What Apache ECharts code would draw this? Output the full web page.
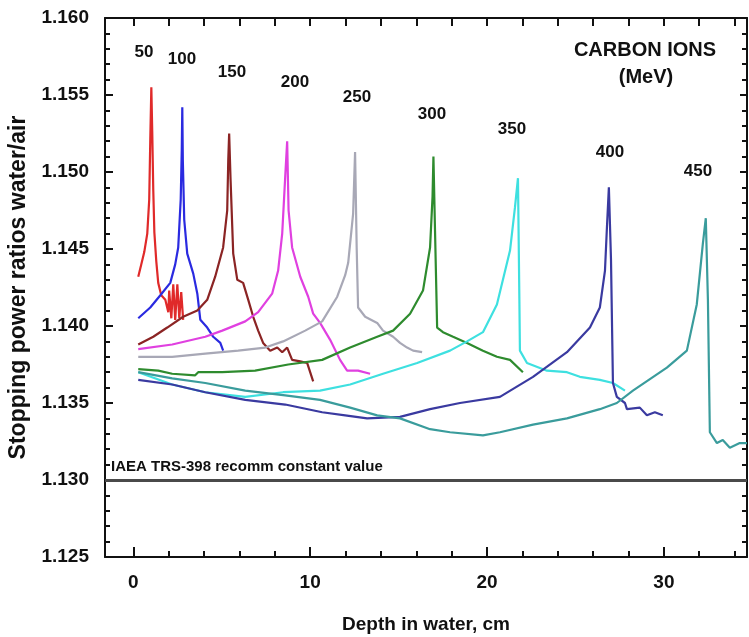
<!DOCTYPE html>
<html>
<head>
<meta charset="utf-8">
<script src="https://cdn.jsdelivr.net/npm/echarts@6/dist/echarts.min.js"></script>
<style>html,body{margin:0;padding:0;background:#fff;}#c{width:749px;height:637px;}</style>
</head>
<body>
<div id="c"></div>
<script>
// ---- data (depth in cm, stopping power ratio water/air) ----
const energies = ['50', '100', '150', '200', '250', '300', '350', '400', '450'];
const d50 = [[0.28,1.1432],[0.45,1.1440],[0.62,1.1448],[0.79,1.1460],[0.90,1.1482],[0.96,1.1521],[1.02,1.1555],[1.07,1.1527],[1.13,1.1488],[1.19,1.1461],[1.30,1.1442],[1.41,1.1428],[1.58,1.1420],[1.81,1.1417],[1.98,1.1409],[2.03,1.1423],[2.15,1.1405],[2.26,1.1427],[2.37,1.1404],[2.49,1.1427],[2.60,1.1405],[2.71,1.1422],[2.82,1.1404]];
const d100 = [[0.28,1.1405],[0.96,1.1412],[1.53,1.1420],[2.09,1.1428],[2.37,1.1440],[2.54,1.1451],[2.68,1.1482],[2.74,1.1514],[2.77,1.1542],[2.80,1.1508],[2.88,1.1469],[3.05,1.1447],[3.39,1.1434],[3.62,1.1421],[3.79,1.1404],[4.18,1.1399],[4.52,1.1393],[4.92,1.1389],[5.08,1.1384]];
const d150 = [[0.28,1.1388],[1.13,1.1393],[1.92,1.1399],[2.82,1.1406],[3.62,1.1410],[4.18,1.1417],[4.63,1.1432],[5.08,1.1451],[5.31,1.1475],[5.37,1.1508],[5.42,1.1525],[5.50,1.1495],[5.65,1.1447],[5.88,1.1430],[6.21,1.1428],[6.50,1.1417],[6.78,1.1406],[7.06,1.1397],[7.34,1.1389],[7.74,1.1384],[8.14,1.1386],[8.42,1.1383],[8.70,1.1386],[8.98,1.1378],[9.44,1.1377],[9.83,1.1376],[10.17,1.1364]];
const d200 = [[0.28,1.1385],[2.20,1.1388],[4.07,1.1393],[5.03,1.1397],[6.33,1.1403],[7.06,1.1409],[7.85,1.1421],[8.19,1.1436],[8.42,1.1460],[8.59,1.1497],[8.70,1.1520],[8.78,1.1475],[8.98,1.1451],[9.44,1.1432],[9.89,1.1419],[10.17,1.1408],[10.56,1.1402],[11.13,1.1391],[11.69,1.1378],[12.09,1.1371],[12.71,1.1371],[13.39,1.1369]];
const d250 = [[0.28,1.1380],[2.20,1.1380],[4.07,1.1382],[5.93,1.1384],[7.46,1.1386],[8.47,1.1390],[9.72,1.1397],[10.68,1.1403],[11.53,1.1419],[11.98,1.1433],[12.15,1.1441],[12.43,1.1473],[12.54,1.1513],[12.63,1.1451],[12.71,1.1412],[13.11,1.1406],[13.79,1.1402],[14.12,1.1397],[14.69,1.1393],[15.08,1.1389],[15.48,1.1386],[15.82,1.1384],[16.33,1.1383]];
const d300 = [[0.28,1.1372],[1.41,1.1371],[2.20,1.1369],[3.50,1.1368],[3.67,1.1370],[5.03,1.1370],[6.89,1.1371],[8.76,1.1375],[10.68,1.1378],[12.26,1.1386],[13.79,1.1393],[14.69,1.1397],[15.65,1.1408],[16.38,1.1423],[16.78,1.1451],[16.92,1.1484],[16.97,1.1510],[17.06,1.1462],[17.18,1.1399],[17.51,1.1396],[18.08,1.1393],[18.87,1.1389],[19.77,1.1384],[20.56,1.1380],[21.30,1.1378],[22.03,1.1370]];
const d350 = [[0.28,1.1370],[2.20,1.1362],[4.07,1.1357],[6.33,1.1354],[8.47,1.1357],[10.56,1.1358],[12.26,1.1362],[14.12,1.1369],[16.05,1.1376],[17.91,1.1384],[18.87,1.1390],[19.77,1.1396],[20.56,1.1414],[21.30,1.1449],[21.58,1.1477],[21.75,1.1496],[21.83,1.1417],[21.86,1.1384],[22.26,1.1376],[23.39,1.1371],[24.52,1.1370],[25.25,1.1367],[26.38,1.1365],[27.12,1.1363],[27.80,1.1358]];
const d400 = [[0.28,1.1365],[2.20,1.1362],[4.07,1.1357],[6.33,1.1352],[8.59,1.1349],[10.68,1.1344],[11.98,1.1342],[13.22,1.1340],[15.08,1.1341],[16.78,1.1346],[18.47,1.1350],[20.73,1.1354],[22.60,1.1367],[24.52,1.1383],[25.82,1.1399],[26.38,1.1412],[26.67,1.1436],[26.78,1.1464],[26.89,1.1490],[27.01,1.1443],[27.12,1.1363],[27.34,1.1354],[27.80,1.1350],[27.91,1.1346],[28.64,1.1347],[29.04,1.1342],[29.49,1.1344],[29.94,1.1342]];
const d450 = [[0.28,1.1370],[2.20,1.1366],[4.07,1.1363],[6.33,1.1358],[8.59,1.1355],[10.56,1.1352],[12.26,1.1347],[13.79,1.1342],[15.08,1.1340],[16.78,1.1333],[17.91,1.1331],[19.77,1.1329],[20.73,1.1331],[22.60,1.1336],[24.52,1.1340],[26.38,1.1346],[27.34,1.1350],[28.25,1.1358],[30.17,1.1373],[31.30,1.1384],[31.86,1.1414],[32.20,1.1453],[32.37,1.1470],[32.49,1.1417],[32.60,1.1331],[33.00,1.1324],[33.33,1.1326],[33.73,1.1321],[34.29,1.1324],[34.70,1.1324]];
const curves = [d50, d100, d150, d200, d250, d300, d350, d400, d450];
const refValue = 1.130;
const refLabel = 'IAEA TRS-398 recomm constant value';
const xLabelTicks = [0, 10, 20, 30];
const xMinorTicks = [2, 4, 6, 8, 12, 14, 16, 18, 22, 24, 26, 28, 32, 34];
const xTopTicks = [0, 2, 4, 6, 8, 10, 12, 14, 16, 18, 20, 22, 24, 26, 28, 30, 32, 34];

// ---- styles / layout ----
const colors = ['#e02a2a', '#2a2ae0', '#8b2424', '#e040e0', '#a8a8b6', '#2e8b2e', '#3ee0e0', '#3a3aa0', '#3a9c9c'];
const labelPos = [[144,52],[182,59],[232,72],[295,82],[357,97],[432,114],[512,129],[610,152],[698,171]];
const FF = "'Liberation Sans', Arial, sans-serif";
const AX = {color: '#111', width: 2};

const chart = echarts.init(document.getElementById('c'), null, {renderer: 'canvas'});

const series = curves.map((d, i) => ({
  type: 'line', name: energies[i], data: d, xAxisIndex: 0, yAxisIndex: 0,
  showSymbol: false, symbol: 'none', smooth: false,
  lineStyle: {color: colors[i], width: 2.2}, z: 3 + i
}));
series.push({
  type: 'line', data: [], xAxisIndex: 0, yAxisIndex: 0, symbol: 'none',
  markLine: {silent: true, symbol: 'none', label: {show: false},
    lineStyle: {color: '#4a4a4a', width: 3, type: 'solid'},
    data: [{yAxis: refValue}]}
});

const graphics = energies.map((e, i) => ({
  type: 'text', x: labelPos[i][0], y: labelPos[i][1], z: 100,
  style: {text: e, fill: '#111', font: 'bold 17px ' + FF, align: 'center', verticalAlign: 'middle'}
}));
graphics.push({type: 'text', x: 645, y: 50, z: 100,
  style: {text: 'CARBON IONS', fill: '#111', font: 'bold 20px ' + FF, align: 'center', verticalAlign: 'middle'}});
graphics.push({type: 'text', x: 646, y: 77, z: 100,
  style: {text: '(MeV)', fill: '#111', font: 'bold 20px ' + FF, align: 'center', verticalAlign: 'middle'}});
graphics.push({type: 'text', x: 111, y: 467, z: 100,
  style: {text: refLabel, fill: '#111', font: 'bold 15px ' + FF, align: 'left', verticalAlign: 'middle'}});

const xBase = {type: 'value', min: -1.6, max: 34.7, gridIndex: 0, splitLine: {show: false}};
const yBase = {type: 'value', min: 1.125, max: 1.160, interval: 0.005, splitLine: {show: false}};

chart.setOption({
  animation: false,
  backgroundColor: '#fff',
  grid: {left: 105, right: 2, top: 18, bottom: 80, containLabel: false, outerBoundsMode: 'none'},
  xAxis: [
    Object.assign({}, xBase, {
      position: 'bottom',
      axisLine: {show: true, onZero: false, lineStyle: AX},
      axisTick: {show: true, inside: true, length: 10, lineStyle: AX, customValues: xLabelTicks},
      axisLabel: {show: true, customValues: xLabelTicks, margin: 16, color: '#111',
        fontFamily: FF, fontWeight: 'bold', fontSize: 19, formatter: v => String(v)},
      name: 'Depth in water, cm', nameLocation: 'middle', nameGap: 58,
      nameTextStyle: {color: '#111', fontFamily: FF, fontWeight: 'bold', fontSize: 19}
    }),
    Object.assign({}, xBase, {
      position: 'bottom',
      axisLine: {show: false, onZero: false},
      axisTick: {show: true, inside: true, length: 6, lineStyle: AX, customValues: xMinorTicks},
      axisLabel: {show: false}
    }),
    Object.assign({}, xBase, {
      position: 'top',
      axisLine: {show: true, onZero: false, lineStyle: AX},
      axisTick: {show: true, inside: true, length: 8, lineStyle: AX, customValues: xTopTicks},
      axisLabel: {show: false}
    })
  ],
  yAxis: [
    Object.assign({}, yBase, {
      position: 'left',
      axisLine: {show: true, onZero: false, lineStyle: AX},
      axisTick: {show: true, inside: true, length: 8, lineStyle: AX},
      minorTick: {show: true, splitNumber: 5, length: 5, lineStyle: {color: '#111', width: 2}},
      axisLabel: {show: true, margin: 16, color: '#111', fontFamily: FF, fontWeight: 'bold', fontSize: 19,
        formatter: v => v.toFixed(3)},
      name: 'Stopping power ratios water/air', nameLocation: 'middle', nameGap: 70, nameRotate: 90,
      nameTextStyle: {color: '#111', fontFamily: FF, fontWeight: 'bold', fontSize: 23}
    }),
    Object.assign({}, yBase, {
      position: 'right',
      axisLine: {show: true, onZero: false, lineStyle: AX},
      axisTick: {show: true, inside: true, length: 7, lineStyle: AX},
      minorTick: {show: true, splitNumber: 5, length: 5, lineStyle: {color: '#111', width: 2}},
      axisLabel: {show: false}
    })
  ],
  series: series,
  graphic: graphics
});
</script>
</body>
</html>
